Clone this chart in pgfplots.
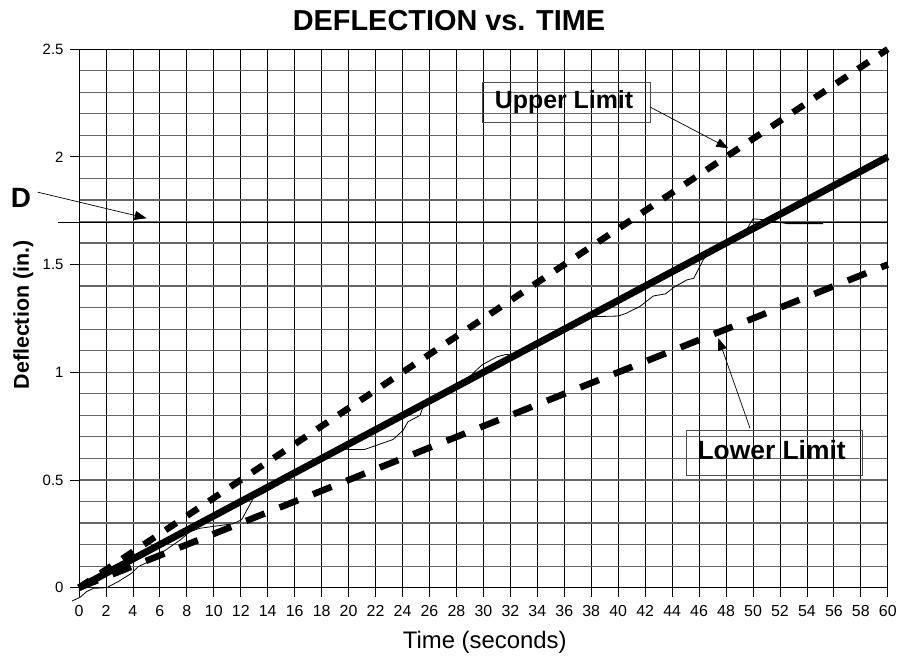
\documentclass[border=0pt]{standalone}
\usepackage{fontspec}
\setmainfont{Liberation Sans}
\usepackage{pgfplots}
\pgfplotsset{compat=1.18}
\usetikzlibrary{arrows.meta}
\begin{document}
\begin{tikzpicture}
\begin{axis}[
  scale only axis,
  width=809bp, height=538.7bp,
  xmin=0, xmax=60, ymin=0, ymax=2.5,
  clip=false,
  xtick={0,2,...,60},
  ytick={0,0.5,1,1.5,2,2.5},
  minor y tick num=4,
  xmajorgrids, ymajorgrids, yminorgrids,
  x grid style={black, line width=0.8bp},
  y grid style={black!60, line width=1.2bp},
  tick align=outside,
  xtick pos=bottom, ytick pos=left,
  major tick length=9bp,
  minor tick length=0bp,
  tick style={black, line width=0.8bp},
  axis line style={black, line width=0.9bp},
  /pgf/number format/assume math mode=true,
  yticklabel style={font=\fontsize{15}{17}\selectfont, xshift=-3bp},
  xticklabel style={font=\fontsize{16}{18}\selectfont, yshift=-5bp},
]
% best-fit deflection line
\addplot[black, line width=7bp] coordinates {(0,0) (60,2)};
% upper limit
\addplot[black, line width=6.5bp, line cap=butt, dash pattern=on 13bp off 13bp] coordinates {(0,0) (60,2.5)};
% lower limit
\addplot[black, line width=6.5bp, line cap=butt, dash pattern=on 20bp off 16bp] coordinates {(0,0) (60,1.5)};
% measured deflection
\addplot[black, line width=0.8bp] coordinates {
(-0.52,-0.062) (0.07,-0.045) (0.57,-0.018) (1.06,-0.003) (2.05,0.0) (2.9,0.028)
(3.9,0.067) (4.4,0.098) (5.14,0.12) (6.5,0.178) (7.5,0.221) (8.23,0.26) (8.97,0.276)
(11.45,0.297) (12.07,0.316) (12.93,0.415) (13.68,0.438) (14.42,0.465) (15,0.5)
(18,0.6) (19.5,0.645) (20.1,0.641) (21.2,0.642) (23.3,0.688) (24.06,0.732) (24.4,0.77)
(25.3,0.80) (25.5,0.835) (26,0.867) (28.5,0.95) (29.4,1.005) (29.9,1.034) (31.0,1.072)
(31.7,1.083) (32.3,1.077) (37.5,1.25) (38.15,1.258) (40.0,1.261) (40.6,1.274)
(41.6,1.305) (42.6,1.354) (43.5,1.364) (44.2,1.397) (45.1,1.429) (45.6,1.436)
(46.3,1.521) (46.8,1.56) (49.5,1.66) (50.0,1.712) (50.5,1.71) (51.75,1.699)
(52.5,1.69) (54.5,1.69) (55.2,1.69)};
% D level
\addplot[black, line width=0.8bp] coordinates {(-1.56,1.694) (60,1.694)};
% annotations
\draw[black!70, line width=0.8bp] (axis cs:29.95,2.159) rectangle (axis cs:42.4,2.344);
\node[anchor=base, font=\bfseries\fontsize{25}{25}\selectfont, inner sep=0pt] at (axis cs:35.98,2.226) {Upper Limit};
\draw[black, line width=0.7bp, -{Triangle[length=12bp,width=9bp]}] (axis cs:42.4,2.23) -- (axis cs:48.17,2.04);
\draw[black!70, line width=0.8bp] (axis cs:45.03,0.52) rectangle (axis cs:58.1,0.732);
\node[anchor=base, font=\bfseries\fontsize{26.5}{26.5}\selectfont, inner sep=0pt] at (axis cs:51.38,0.593) {Lower Limit};
\draw[black, line width=0.7bp, -{Triangle[length=12bp,width=9bp]}] (axis cs:49.78,0.74) -- (axis cs:47.43,1.158);
\node[anchor=base, font=\bfseries\fontsize{28}{28}\selectfont, inner sep=0pt] at (axis cs:-4.3,1.767) {D};
\draw[black, line width=0.7bp, -{Triangle[length=12bp,width=9bp]}] (axis cs:-3.06,1.836) -- (axis cs:5.02,1.715);
% title and axis labels
\node[font=\bfseries\fontsize{29}{29}\selectfont, inner sep=0pt] at (axis cs:27.45,2.633) {DEFLECTION vs. TIME};
\node[anchor=base, font=\fontsize{24}{24}\selectfont, inner sep=0pt] at (axis cs:30.1,-0.281) {Time (seconds)};
\node[rotate=90, font=\bfseries\fontsize{21.5}{21.5}\selectfont, inner sep=0pt] at (axis cs:-4.12,1.266) {Deflection (in.)};
\coordinate (bbll) at (axis cs:-5.86,-0.3217);
\coordinate (bbur) at (axis cs:60.83,2.728);
\end{axis}
\pgfresetboundingbox
\useasboundingbox (bbll) rectangle (bbur);
\end{tikzpicture}
\end{document}
